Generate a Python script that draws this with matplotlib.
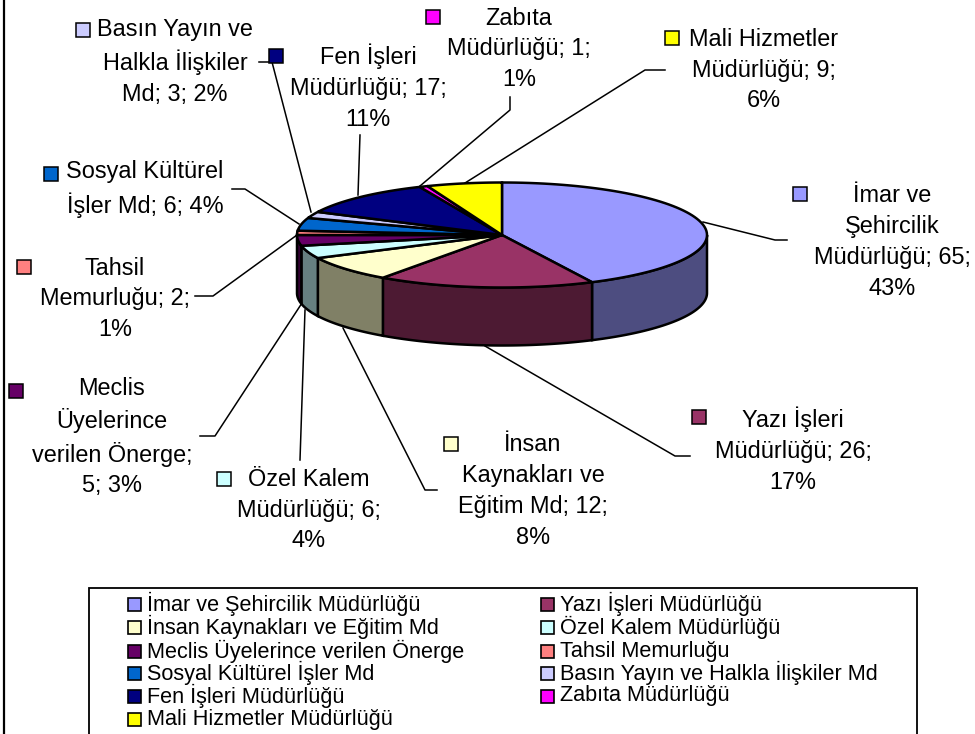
import numpy as np
import matplotlib
matplotlib.use("Agg")
import matplotlib.pyplot as plt
from matplotlib.patches import Polygon, Rectangle

plt.rcParams['font.family'] = ['Liberation Sans', 'DejaVu Sans']

# data
names = ['İmar ve Şehircilik Müdürlüğü', 'Yazı İşleri Müdürlüğü', 'İnsan Kaynakları ve Eğitim Md',
         'Özel Kalem Müdürlüğü', 'Meclis Üyelerince verilen Önerge', 'Tahsil Memurluğu',
         'Sosyal Kültürel İşler Md', 'Basın Yayın ve Halkla İlişkiler Md', 'Fen İşleri Müdürlüğü',
         'Zabıta Müdürlüğü', 'Mali Hizmetler Müdürlüğü']
values = [65, 26, 12, 6, 5, 2, 6, 3, 17, 1, 9]
top_colors = ['#9999FF', '#993366', '#FFFFCC', '#CCFFFF', '#660066', '#FF8080',
              '#0066CC', '#CCCCFF', '#000080', '#FF00FF', '#FFFF00']
label_text = ['İmar ve\nŞehircilik\nMüdürlüğü; 65;\n43%', 'Yazı İşleri\nMüdürlüğü; 26;\n17%',
              'İnsan\nKaynakları ve\nEğitim Md; 12;\n8%', 'Özel Kalem\nMüdürlüğü; 6;\n4%',
              'Meclis\nÜyelerince\nverilen Önerge;\n5; 3%', 'Tahsil\nMemurluğu; 2;\n1%',
              'Sosyal Kültürel\nİşler Md; 6; 4%', 'Basın Yayın ve\nHalkla İlişkiler\nMd; 3; 2%',
              'Fen İşleri\nMüdürlüğü; 17;\n11%', 'Zabıta\nMüdürlüğü; 1;\n1%',
              'Mali Hizmetler\nMüdürlüğü; 9;\n6%']

# layout, in pixels
cx, cy, rx, ry, depth = 502, 235, 205, 52.5, 58
label_pos = [(892, 242), (793, 450), (533, 491), (309, 510), (112, 437), (115, 299),
             (145, 189), (175, 62), (368, 87), (519, 49), (764, 70)]
key_pos = [(800, 194), (699, 417), (451, 444), (224, 479), (16, 391), (24, 267),
           (51, 174), (83, 30), (276, 56), (433, 17), (672, 38)]
leaders = [[(787, 240), (775, 240), (703, 222)], [(690, 456), (675, 456), (485, 346)],
           [(437, 490), (425, 490), (343, 328)], [(300, 460), (305, 310)],
           [(200, 436), (215, 436), (302, 303)], [(195, 296), (213, 296), (297, 235)],
           [(232, 189), (245, 189), (299, 224)], [(259, 62), (272, 62), (311, 212)],
           [(358, 195), (360, 135)], [(510, 97), (510, 110), (420, 186)],
           [(665, 70), (645, 70), (465, 183)]]


def shade(c):
    r, g, b = matplotlib.colors.to_rgb(c)
    return (r * 0.5, g * 0.5, b * 0.5)


def rim(a, b):
    t = np.radians(np.linspace(a, b, 80))
    return np.column_stack([cx + rx * np.sin(t), cy - ry * np.cos(t)])


fig = plt.figure(figsize=(9.75, 7.34), dpi=100)
ax = fig.add_axes([0, 0, 1, 1])
ax.set_xlim(0, 975)
ax.set_ylim(734, 0)
ax.axis('off')

# left frame line
ax.plot([4, 4], [0, 734], color='black', lw=1.6)

edges = np.cumsum([0] + values) / sum(values) * 360

for pts in leaders:
    xs, ys = zip(*pts)
    ax.plot(xs, ys, color='black', lw=1.1, zorder=1)

# side walls, front half only
for i in range(len(values)):
    a, b = max(edges[i], 90), min(edges[i + 1], 270)
    if a >= b:
        continue
    upper = rim(a, b)
    lower = upper[::-1] + [0, depth]
    ax.add_patch(Polygon(np.vstack([upper, lower]), closed=True, fc=shade(top_colors[i]),
                         ec='black', lw=1.8, zorder=2))

# top face
for i in range(len(values)):
    pts = np.vstack([[cx, cy], rim(edges[i], edges[i + 1])])
    ax.add_patch(Polygon(pts, closed=True, fc=top_colors[i], ec='black', lw=1.8, zorder=3))

# data labels
for i in range(len(values)):
    x, y = label_pos[i]
    ax.text(x, y, label_text[i], ha='center', va='center', multialignment='center',
            fontsize=16.9, linespacing=1.43, color='black', zorder=5)
    kx, ky = key_pos[i]
    ax.add_patch(Rectangle((kx - 7, ky - 7), 14, 14, fc=top_colors[i], ec='black', lw=1.1, zorder=5))

# legend
ax.add_patch(Rectangle((89, 588), 828, 160, fc='white', ec='black', lw=1.3, zorder=4))
col_x = [134, 547]
row_y = [604, 627, 651, 673, 696, 719]
for i, name in enumerate(names):
    col = i % 2
    y = row_y[i // 2]
    ax.add_patch(Rectangle((col_x[col] - 6.5, y - 6.5), 13, 13, fc=top_colors[i], ec='black', lw=1.2, zorder=5))
    ax.text(col_x[col] + 13, y, name, ha='left', va='center', fontsize=15.6, color='black', zorder=5)

fig.savefig('out.png', dpi=100)
